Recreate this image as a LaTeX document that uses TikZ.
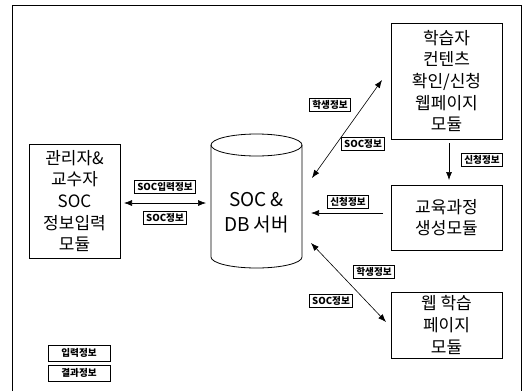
\documentclass[tikz,border=0pt]{standalone}
\usepackage{fontspec}
\newfontfamily\kr{Noto Sans CJK KR}
\usetikzlibrary{arrows.meta,shadows}
\tikzset{
  box/.style={draw, line width=0.8pt, align=center, inner sep=0pt,
    font=\kr\fontsize{17}{21.6}\selectfont},
  lbl/.style={draw, line width=0.7pt, fill=white, inner xsep=2.5pt, inner ysep=1.8pt,
    font=\kr\bfseries\fontsize{9.6}{10}\selectfont,
    drop shadow={shadow xshift=0.8pt, shadow yshift=-0.8pt, fill=black, opacity=1}},
  legend/.style={lbl, minimum width=62pt, minimum height=16pt},
  conn/.style={line width=0.6pt, -{Latex[length=8pt,width=6pt]}},
  dconn/.style={line width=0.6pt, {Latex[length=8pt,width=6pt]}-{Latex[length=8pt,width=6pt]}},
}
\begin{document}
\begin{tikzpicture}[x=1pt,y=-1pt]
\useasboundingbox (0,0) rectangle (526,391);
\fill[white] (0,0) rectangle (526,391);
% outer frame
\draw[line width=1pt] (12,391) -- (12,5) -- (521,5) -- (521,391);

% boxes
\node[box, minimum width=91pt, minimum height=114pt] (admin) at (74.5,201)
  {관리자\&\\교수자\\SOC\\정보입력\\모듈};
\node[box, minimum width=111pt, minimum height=116pt] (learner) at (446.5,81)
  {학습자\\컨텐츠\\확인/신청\\웹페이지\\모듈};
\node[box, minimum width=111pt, minimum height=65pt] (course) at (446.5,217.5)
  {교육과정\\생성모듈};
\node[box, minimum width=111pt, minimum height=66pt] (web) at (446.5,325)
  {웹 학습\\페이지\\모듈};

% database cylinder
\draw[line width=0.8pt] (211,145) -- (211,257)
  arc[start angle=180, end angle=360, x radius=45.5pt, y radius=11pt] -- (302,145);
\draw[line width=0.8pt] (256.5,145) ellipse[x radius=45.5pt, y radius=11pt];
\node[align=center, font=\kr\fontsize{19}{25}\selectfont] (db) at (256.5,212.5) {SOC \&\\DB 서버};

% connector end points
\coordinate (aL) at (124,203);
\coordinate (aR) at (206,203);
\coordinate (tD) at (312,178);
\coordinate (tL) at (382,80);
\coordinate (dS) at (449,143);
\coordinate (dE) at (449,180);
\coordinate (hS) at (383,213);
\coordinate (hE) at (311,213);
\coordinate (bD) at (311,243);
\coordinate (bW) at (386,322);

% connectors
\draw[dconn] (aL) -- (aR);
\draw[dconn] (tD) -- (tL);
\draw[conn] (dS) -- (dE);
\draw[conn] (hS) -- (hE);
\draw[dconn] (bD) -- (bW);

% connector labels
\node[lbl] (l1) at (165,187) {SOC입력정보};
\node[lbl] (l2) at (165,218) {SOC정보};
\node[lbl] (l3) at (330,105) {학생정보};
\node[lbl] (l4) at (363,144) {SOC정보};
\node[lbl] (l5) at (482,160) {신청정보};
\node[lbl] (l6) at (348,202) {신청정보};
\node[lbl] (l7) at (374,272) {학생정보};
\node[lbl] (l8) at (331,301) {SOC정보};

% legend
\node[legend] (g1) at (79,353) {입력정보};
\node[legend] (g2) at (79,373) {결과정보};
\end{tikzpicture}
\end{document}
